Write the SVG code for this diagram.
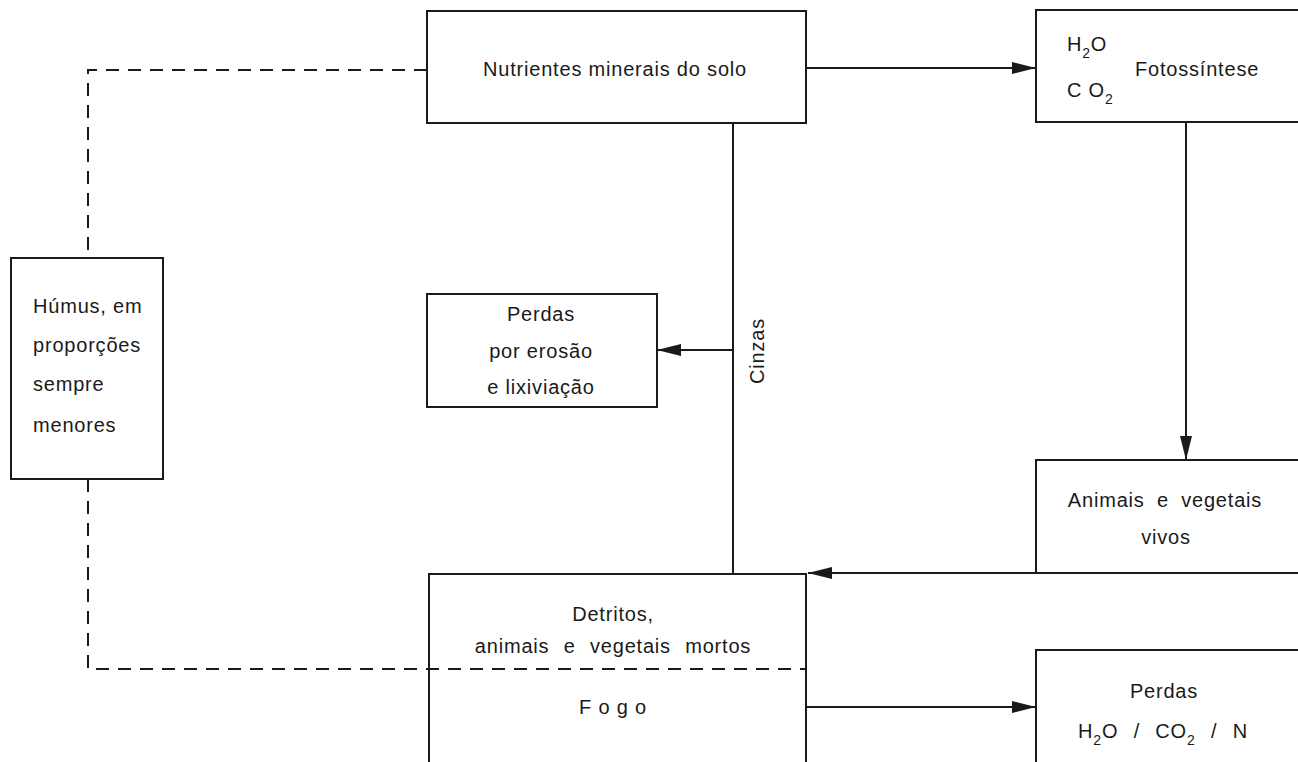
<svg xmlns="http://www.w3.org/2000/svg" width="1298" height="762" viewBox="0 0 1298 762">
<style>
.box{fill:none;stroke:#1a1a1a;stroke-width:2}
.ln{fill:none;stroke:#1a1a1a;stroke-width:2}
.dash{fill:none;stroke:#1a1a1a;stroke-width:2;stroke-dasharray:13 9}
text{font-family:"Liberation Sans","DejaVu Sans",sans-serif;font-size:20px;fill:#1a1a1a;letter-spacing:0.8px}
.c{text-anchor:middle}
.sub{font-size:14px}
</style>
<defs>
<marker id="ah" viewBox="0 0 24 14" refX="24" refY="7" markerWidth="24" markerHeight="14" markerUnits="userSpaceOnUse" orient="auto">
<path d="M0,1 L24,7 L0,13 Z" fill="#1a1a1a"/>
</marker>
</defs>
<rect width="1298" height="762" fill="#fff"/>
<g id="connectors">
<line class="ln" x1="806" y1="68" x2="1036" y2="68" marker-end="url(#ah)"/>
<line class="ln" x1="1186" y1="122" x2="1186" y2="460" marker-end="url(#ah)"/>
<line class="ln" x1="1298" y1="573" x2="808" y2="573" marker-end="url(#ah)"/>
<line class="ln" x1="806" y1="707" x2="1036" y2="707" marker-end="url(#ah)"/>
<line class="ln" x1="733" y1="123" x2="733" y2="574"/>
<line class="ln" x1="733" y1="350" x2="657" y2="350" marker-end="url(#ah)"/>
<polyline class="dash" points="427,70 88,70 88,258"/>
<polyline class="dash" points="88,479 88,669 806,669"/>
</g>
<g id="nutrientes">
<rect class="box" x="427" y="11" width="379" height="112"/>
<text class="c" x="615" y="76">Nutrientes minerais do solo</text>
</g>
<g id="fotossintese">
<rect class="box" x="1036" y="10" width="280" height="112"/>
<text x="1067" y="51">H<tspan class="sub" dy="7">2</tspan><tspan dy="-7">O</tspan></text>
<text x="1067" y="97">C O<tspan class="sub" dy="7">2</tspan></text>
<text x="1135" y="76">Fotossíntese</text>
</g>
<g id="humus">
<rect class="box" x="11" y="258" width="152" height="221"/>
<text x="33" y="313">Húmus, em</text>
<text x="33" y="352">proporções</text>
<text x="33" y="391">sempre</text>
<text x="33" y="432">menores</text>
</g>
<g id="perdas-erosao">
<rect class="box" x="427" y="294" width="230" height="113"/>
<text class="c" x="541" y="321">Perdas</text>
<text class="c" x="541" y="358">por erosão</text>
<text class="c" x="541" y="394">e lixiviação</text>
</g>
<g id="cinzas">
<text class="c" transform="translate(764,351) rotate(-90)">Cinzas</text>
</g>
<g id="animais">
<rect class="box" x="1036" y="460" width="280" height="113"/>
<text class="c" x="1165" y="507" word-spacing="6">Animais e vegetais</text>
<text class="c" x="1166" y="544" letter-spacing="2">vivos</text>
</g>
<g id="detritos">
<rect class="box" x="429" y="574" width="377" height="200"/>
<text class="c" x="613" y="621">Detritos,</text>
<text class="c" x="613" y="653" word-spacing="8">animais e vegetais mortos</text>
<text class="c" x="613" y="714">F o g o</text>
</g>
<g id="perdas-gases">
<rect class="box" x="1036" y="650" width="280" height="130"/>
<text class="c" x="1164" y="698">Perdas</text>
<text class="c" x="1163" y="738" word-spacing="9">H<tspan class="sub" dy="7">2</tspan><tspan dy="-7">O / CO</tspan><tspan class="sub" dy="7">2</tspan><tspan dy="-7"> / N</tspan></text>
</g>
</svg>
